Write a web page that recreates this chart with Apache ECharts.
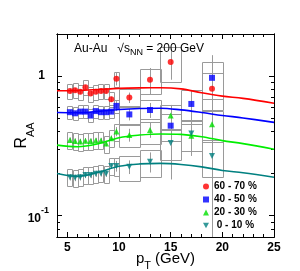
<!DOCTYPE html>
<html><head><meta charset="utf-8">
<script src="https://cdn.jsdelivr.net/npm/echarts@6/dist/echarts.min.js"></script>
<style>html,body{margin:0;padding:0;background:#fff}#c{width:300px;height:271px}</style>
</head><body><div id="c"></div>
<script>
// ---- data ----
const pT = [5.25,5.75,6.25,6.75,7.25,7.75,8.25,8.75,9.25,9.75,11,13,15,17,19];
const binHalfWidth = [0.25,0.25,0.25,0.25,0.25,0.25,0.25,0.25,0.25,0.25,1,1,1,1,1];

const raa6070  = [0.78,0.79,0.77,0.83,0.75,0.77,0.78,0.78,0.68,0.955,0.70,0.94,1.26,null,0.81];
const stat6070 = [0.03,0.03,0.03,0.03,0.03,0.03,0.03,0.03,0.03,0.10,0.06,0.20,0.32,null,0.60];
const sys6070  = [0.12,0.12,0.12,0.12,0.12,0.12,0.12,0.12,0.12,0.12,0.15,0.20,0.28,null,0.30];

const raa4050  = [0.55,0.54,0.555,0.555,0.52,0.56,0.55,0.55,0.555,0.61,0.53,0.57,0.44,0.63,0.97];
const stat4050 = [0.02,0.02,0.02,0.02,0.02,0.02,0.02,0.02,0.02,0.05,0.05,0.07,0.10,0.15,0.30];
const sys4050  = [0.11,0.11,0.11,0.11,0.11,0.11,0.11,0.11,0.11,0.11,0.15,0.18,0.22,0.25,0.30];

const raa2030  = [0.347,0.341,0.339,0.343,0.341,0.345,0.345,0.328,0.358,0.40,0.378,0.41,0.52,0.372,0.45];
const stat2030 = [0.015,0.015,0.015,0.015,0.015,0.015,0.015,0.015,0.015,0.03,0.04,0.05,0.10,0.09,0.15];
const sys2030  = [0.14,0.14,0.14,0.14,0.14,0.14,0.14,0.14,0.14,0.14,0.18,0.20,0.20,0.22,0.25];

const raa0010  = [0.188,0.186,0.188,0.195,0.195,0.199,0.200,0.199,0.226,0.226,0.223,0.243,0.331,0.387,0.267];
const stat0010 = [0.01,0.01,0.01,0.01,0.01,0.01,0.01,0.01,0.01,0.02,0.025,0.04,0.15,0.12,0.22];
const sys0010  = [0.14,0.14,0.14,0.14,0.14,0.14,0.14,0.14,0.14,0.15,0.20,0.22,0.25,0.25,0.30];

const curvePt   = [4,6,8,10,12,14,16,18,20,22,25];
const curve6070 = [0.783,0.787,0.800,0.815,0.822,0.824,0.808,0.757,0.717,0.691,0.638];
const curve4050 = [0.547,0.545,0.557,0.575,0.585,0.587,0.571,0.547,0.521,0.500,0.465];
const curve2030 = [0.319,0.311,0.327,0.361,0.377,0.384,0.381,0.367,0.344,0.327,0.298];
const curve0010 = [0.200,0.1905,0.204,0.225,0.234,0.236,0.232,0.223,0.210,0.202,0.188];

const seriesNames = ['60 - 70 %','40 - 50 %','20 - 30 %',' 0 - 10 %'];

const xMajorTicks = [5,10,15,20,25];
const xMinorTicks = [4,6,7,8,9,11,12,13,14,16,17,18,19,21,22,23,24];
const yMajorTicks = [0.1,1];
const yMinorTicks = [0.07,0.08,0.09,0.2,0.3,0.4,0.5,0.6,0.7,0.8,0.9,2];
const X_MIN = 4, X_MAX = 25, Y_MIN = 0.07, Y_MAX = 2;

// ---- chart ----
const FONT = 'Liberation Sans';
const chart = echarts.init(document.getElementById('c'), null, {renderer:'canvas'});

function pts(vals){ return pT.map((x,i)=>vals[i]==null?null:[x,vals[i]]).filter(Boolean); }
function errData(vals, stat, sys){
  return pT.map((x,i)=>vals[i]==null?null:[x,vals[i],binHalfWidth[i],stat[i],sys[i]]).filter(Boolean);
}
function errRender(params, api){
  const x=api.value(0), y=api.value(1), hw=api.value(2), st=api.value(3), sy=api.value(4);
  const clampY = v => Math.min(Math.max(v,Y_MIN),Y_MAX);
  const a = api.coord([x-hw, clampY(y*(1+sy))]);
  const b = api.coord([x+hw, clampY(y*(1-sy))]);
  const c1 = api.coord([x, clampY(y+st)]);
  const c2 = api.coord([x, clampY(y-st)]);
  return {type:'group', children:[
    {type:'rect', shape:{x:Math.round(a[0])+0.5,y:Math.round(a[1])+0.5,width:Math.round(b[0]-a[0]),height:Math.round(b[1]-a[1])},
     style:{fill:'none',stroke:'#9a9a9a',lineWidth:1}},
    {type:'line', shape:{x1:Math.round(c1[0])+0.5,y1:c1[1],x2:Math.round(c1[0])+0.5,y2:c2[1]},
     style:{stroke:'#9a9a9a',lineWidth:1}}
  ]};
}

const colors = ['#ff0000','#0000ff','#00e000','#008080'];
const lineColors = ['#ff0000','#0000ff','#00ee00','#008080'];
const symbols = ['circle','rect','triangle','path://M0,0 L10,0 L5,9 Z'];
const raa = [raa6070,raa4050,raa2030,raa0010];
const stats = [stat6070,stat4050,stat2030,stat0010];
const syss = [sys6070,sys4050,sys2030,sys0010];
const curves = [curve6070,curve4050,curve2030,curve0010];

const series = [];
for (let k=0;k<4;k++){
  series.push({type:'custom', renderItem:errRender, data:errData(raa[k],stats[k],syss[k]), z:1, silent:true,
    encode:{x:0,y:1}});
}
for (let k=0;k<4;k++){
  series.push({type:'line', data:curvePt.map((x,i)=>[x,curves[k][i]]), smooth:0.35, showSymbol:false, symbol:'none',
    lineStyle:{color:lineColors[k],width:1.6}, z:2, silent:true});
}
for (let k=0;k<4;k++){
  series.push({type:'scatter', name:seriesNames[k], data:pts(raa[k]), symbol:symbols[k], symbolSize:6,
    itemStyle:{color:colors[k]}, z:3});
}

const tickStyle = {color:'#000', width:1};
function xAxisDef(pos, ticks, len, labels){
  return {type:'value', position:pos, min:X_MIN, max:X_MAX, gridIndex:0,
    axisLine:{show:true, onZero:false, lineStyle:{color:'#000',width:1}},
    axisTick:{show:true, inside:true, length:len, customValues:ticks, lineStyle:tickStyle},
    axisLabel:labels?{show:true, customValues:xMajorTicks, margin:5, color:'#000', fontFamily:FONT, fontWeight:'bold', fontSize:12}:{show:false},
    splitLine:{show:false}};
}
function yAxisDef(pos, ticks, len, labels){
  return {type:'log', logBase:10, position:pos, min:Y_MIN, max:Y_MAX, gridIndex:0,
    axisLine:{show:true, onZero:false, lineStyle:{color:'#000',width:1}},
    axisTick:{show:true, inside:true, length:len, customValues:ticks, lineStyle:tickStyle},
    axisLabel:labels?{show:true, customValues:yMajorTicks, margin:8,
      formatter:v=> v>=1 ? '{one|1}' : '{b|10}{sup|-1}',
      rich:{one:{fontFamily:FONT,fontWeight:'bold',fontSize:12,color:'#000',padding:[0,4,0,0]},
            b:{fontFamily:FONT,fontWeight:'bold',fontSize:12,color:'#000',verticalAlign:'bottom',lineHeight:18},
            sup:{fontFamily:FONT,fontWeight:'bold',fontSize:9,color:'#000',verticalAlign:'top',lineHeight:18}}}:{show:false},
    splitLine:{show:false}};
}

const xAxes = [xAxisDef('bottom', xMajorTicks, 5, true), xAxisDef('bottom', xMinorTicks, 3, false),
               xAxisDef('top', xMajorTicks, 5, false), xAxisDef('top', xMinorTicks, 3, false)];
xAxes[0].name = '{p|p}{s|T}{p| (GeV)}';
xAxes[0].nameLocation = 'middle';
xAxes[0].nameGap = 14;
xAxes[0].nameMoveOverlap = false;
xAxes[0].nameTextStyle = {rich:{
  p:{fontFamily:FONT,fontSize:15,color:'#000',verticalAlign:'top',lineHeight:20},
  s:{fontFamily:FONT,fontSize:11,color:'#000',verticalAlign:'bottom',lineHeight:20}}};
const yAxes = [yAxisDef('left', yMajorTicks, 5, true), yAxisDef('left', yMinorTicks, 3, false),
               yAxisDef('right', yMajorTicks, 5, false), yAxisDef('right', yMinorTicks, 3, false)];
yAxes[0].name = '{r|R}{s|AA}';
yAxes[0].nameLocation = 'middle';
yAxes[0].nameGap = 21;
yAxes[0].nameRotate = 90;
yAxes[0].nameMoveOverlap = false;
yAxes[0].nameTextStyle = {rich:{
  r:{fontFamily:FONT,fontSize:16,color:'#000',verticalAlign:'top',lineHeight:22},
  s:{fontFamily:FONT,fontSize:11,color:'#000',verticalAlign:'bottom',lineHeight:22}}};

chart.setOption({
  animation:false,
  backgroundColor:'#fff',
  grid:{left:57, right:26, top:34, bottom:34, containLabel:false, outerBoundsMode:'none'},
  title:{text:'Au-Au   \u221As{sub|NN} = 200 GeV', left:69, top:36,
    textStyle:{fontFamily:FONT, fontSize:12, fontWeight:'normal', color:'#000',
      rich:{sub:{fontFamily:FONT,fontSize:9,color:'#000',verticalAlign:'bottom',lineHeight:16}}}},
  legend:{data:seriesNames, orient:'vertical', left:203, top:181, itemWidth:6, itemHeight:6, itemGap:2,
    selectedMode:false, padding:0,
    textStyle:{fontFamily:FONT, fontSize:10, fontWeight:'bold', color:'#000', lineHeight:11}},
  xAxis:xAxes, yAxis:yAxes, series:series
});
</script></body></html>
